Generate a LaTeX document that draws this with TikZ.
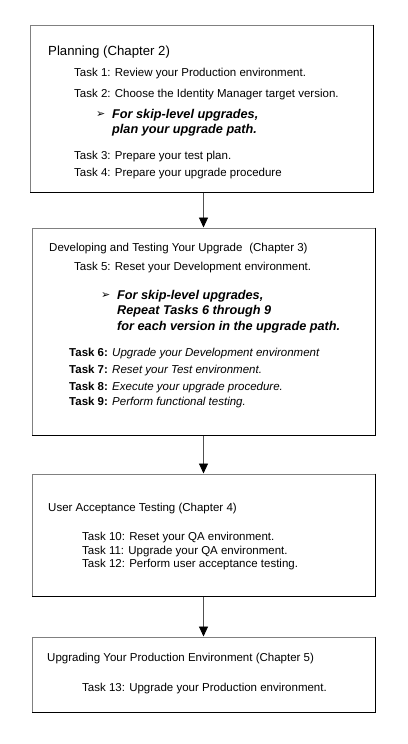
\documentclass[tikz,border=0pt]{standalone}
\usepackage{fontspec}
\setmainfont{Liberation Sans}
\newfontfamily\symfont{DejaVu Sans}
\usetikzlibrary{fit,arrows.meta}
\definecolor{edgegray}{HTML}{808080}
\definecolor{linegray}{HTML}{505050}
\begin{document}
\begin{tikzpicture}[x=1pt,y=-1pt,
  box/.style={draw=edgegray, line width=1pt, inner sep=0pt},
  shade/.style={draw=black, line width=1pt},
  txt/.style={anchor=west, inner sep=0pt, text height=8pt, text depth=2pt, font=\fontsize{11.5}{13}\selectfont},
  ttl/.style={txt, font=\fontsize{13.2}{15}\selectfont},
  emph/.style={anchor=west, inner sep=0pt, text height=8.5pt, text depth=2.5pt, font=\fontsize{12.7}{14}\selectfont\bfseries\itshape},
  bul/.style={anchor=west, inner sep=0pt, font=\symfont\fontsize{11}{12}\selectfont},
  arr/.style={draw=linegray, line width=0.9pt, -{Triangle[width=9pt,length=10pt,fill=black,color=black]}}
]
\useasboundingbox (0,0) rectangle (407,744);
\fill[white] (0,0) rectangle (407,744);

% boxes
\node[box, fit={(30,25) (373,192)}] (b1) {};
\node[box, fit={(32,228) (375,435)}] (b2) {};
\node[box, fit={(32,474) (375,596)}] (b3) {};
\node[box, fit={(32,637) (375,712)}] (b4) {};
\foreach \b in {b1,b2,b3,b4}{
  \draw[shade] (\b.north east) -- (\b.south east) -- (\b.south west);
}

% connectors
\draw[arr] (b1.south -| b2.north) -- (b2.north);
\draw[arr] (b2.south) -- (b3.north);
\draw[arr] (b3.south) -- (b4.north);

% box 1
\node[ttl] (p0) at (48,52) {Planning (Chapter 2)};
\node[txt] (p1) at (74,73) {Task 1: Review your Production environment.};
\node[txt] (p2) at (74,94) {Task 2: Choose the Identity Manager target version.};
\node[bul] (pb) at (96,115) {➢};
\node[emph] (pe1) at (112,115) {For skip-level upgrades,};
\node[emph] (pe2) at (112,130) {plan your upgrade path.};
\node[txt] (p3) at (74,156) {Task 3: Prepare your test plan.};
\node[txt] (p4) at (74,173) {Task 4: Prepare your upgrade procedure};

% box 2
\node[txt] (d0) at (49,248) {Developing and Testing Your Upgrade\hspace{0.6em}(Chapter 3)};
\node[txt] (d5) at (74,267) {Task 5: Reset your Development environment.};
\node[bul] (db) at (101,296) {➢};
\node[emph] (de1) at (117,296) {For skip-level upgrades,};
\node[emph] (de2) at (117,311.5) {Repeat Tasks 6 through 9};
\node[emph] (de3) at (117,327) {for each version in the upgrade path.};
\node[txt] (d6) at (69,353) {\textbf{Task 6:} \textit{Upgrade your Development environment}};
\node[txt] (d7) at (69,370) {\textbf{Task 7:} \textit{Reset your Test environment.}};
\node[txt] (d8) at (69,387) {\textbf{Task 8:} \textit{Execute your upgrade procedure.}};
\node[txt] (d9) at (69,402) {\textbf{Task 9:} \textit{Perform functional testing.}};

% box 3
\node[txt] (u0) at (48,508) {User Acceptance Testing (Chapter 4)};
\node[txt] (u1) at (82,537) {Task 10: Reset your QA environment.};
\node[txt] (u2) at (82,551) {Task 11: Upgrade your QA environment.};
\node[txt] (u3) at (82,564) {Task 12: Perform user acceptance testing.};

% box 4
\node[txt] (g0) at (47,658) {Upgrading Your Production Environment (Chapter 5)};
\node[txt] (g1) at (82,688) {Task 13: Upgrade your Production environment.};
\end{tikzpicture}
\end{document}
